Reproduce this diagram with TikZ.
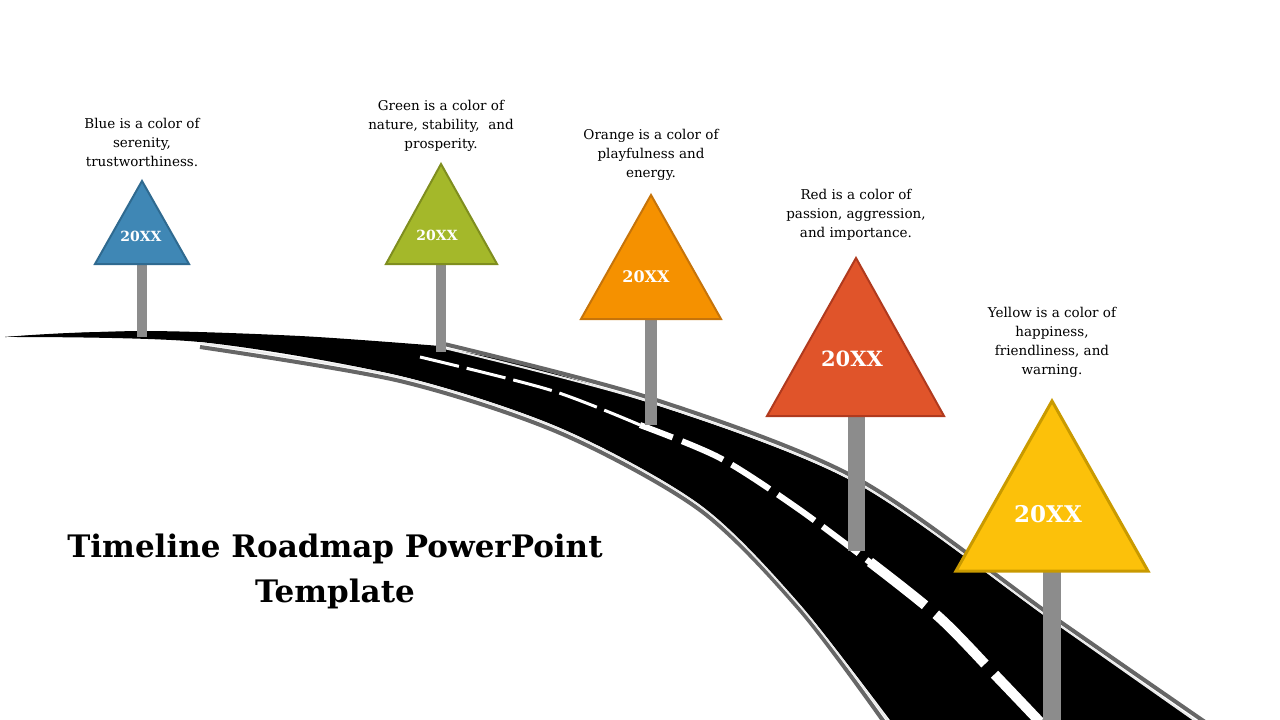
\documentclass[tikz,border=0pt]{standalone}
\usepackage{fontspec}
\setmainfont{DejaVu Serif}
\begin{document}
\begin{tikzpicture}[x=1pt,y=-1pt,
 post/.style={fill=gray!80!black!75,draw=none},
 desc/.style={align=center,font=\fontsize{13.5}{19}\selectfont},
 yr/.style={text=white,font=\bfseries},
 sign/.style={line width=2pt,line join=miter}]
\definecolor{cb}{HTML}{3F87B5}\definecolor{cbd}{HTML}{2F6A90}
\definecolor{cg}{HTML}{A4B82A}\definecolor{cgd}{HTML}{7F8E1F}
\definecolor{co}{HTML}{F59100}\definecolor{cod}{HTML}{C6740A}
\definecolor{cr}{HTML}{E0542A}\definecolor{crd}{HTML}{B03A1E}
\definecolor{cy}{HTML}{FCC10A}\definecolor{cyd}{HTML}{C99A00}
\definecolor{pg}{HTML}{666666}
\useasboundingbox (0,0) rectangle (1280,720);
% road
\fill[black] plot[smooth] coordinates {(5,337) (140,332) (440,348) (650,403) (856,483) (1052,621) (1195,720)}
 -- (890,720) -- plot[smooth] coordinates {(890,720) (800,605) (700,505) (560,428) (400,376) (200,342) (5,337)} -- cycle;
\draw[pg,line width=4pt] plot[smooth] coordinates {(440,343) (650,398) (856,478) (1052,616) (1205,722)};
\draw[white!85!gray,line width=2pt] plot[smooth] coordinates {(440,347) (650,402) (856,482) (1052,620) (1197,722)};
\draw[pg,line width=4pt] plot[smooth] coordinates {(200,347) (400,381) (560,433) (700,510) (800,610) (884,722)};
\draw[white!85!gray,line width=2pt] plot[smooth] coordinates {(200,343) (400,377) (560,429) (700,506) (800,606) (889,722)};
\fill[black] plot[smooth] coordinates {(5,337) (140,331) (300,336) (440,346)} -- plot[smooth] coordinates {(440,352) (300,344) (140,335) (5,337)} -- cycle;
% center dashes
\draw[white,line width=3pt,dash pattern=on 40pt off 8pt] plot[smooth] coordinates {(420,357) (550,390) (640,425)};
\draw[white,line width=6pt,dash pattern=on 45pt off 10pt,dash phase=10pt] plot[smooth] coordinates {(640,425) (720,458) (800,510) (880,570)};
\draw[white,line width=10pt,dash pattern=on 70pt off 14pt] plot[smooth] coordinates {(870,562) (940,618) (1000,680) (1040,722)};
% signs
\fill[post] (137,264) rectangle (147,337);
\fill[post] (436,264) rectangle (446,352);
\fill[post] (645,319) rectangle (657,425);
\fill[post] (848,416) rectangle (865,551);
\fill[post] (1043,571) rectangle (1061,720);
\draw[sign,fill=cb,draw=cbd] (142,181)--(189,264)--(95,264)--cycle;
\draw[sign,fill=cg,draw=cgd] (441,164)--(497,264)--(386,264)--cycle;
\draw[sign,fill=co,draw=cod] (651,195)--(721,319)--(581,319)--cycle;
\draw[sign,fill=cr,draw=crd] (856,258)--(944,416)--(767,416)--cycle;
\draw[sign,line width=3pt,fill=cy,draw=cyd] (1052,401)--(1148,571)--(956,571)--cycle;
\node[yr,font=\fontsize{14}{16}\selectfont\bfseries] (y1) at (141,236) {20XX};
\node[yr,font=\fontsize{14}{16}\selectfont\bfseries] (y2) at (437,235) {20XX};
\node[yr,font=\fontsize{16}{18}\selectfont\bfseries] (y3) at (646,277) {20XX};
\node[yr,font=\fontsize{21}{24}\selectfont\bfseries] (y4) at (852,359) {20XX};
\node[yr,font=\fontsize{23}{26}\selectfont\bfseries] (y5) at (1048,514) {20XX};
\node[desc] (d1) at (142,142) {Blue is a color of\\serenity,\\trustworthiness.};
\node[desc] (d2) at (441,126) {Green is a color of\\nature, stability,\ \ and\\prosperity.};
\node[desc] (d3) at (651,155) {Orange is a color of\\playfulness and\\energy.};
\node[desc] (d4) at (856,215) {Red is a color of\\passion, aggression,\\and importance.};
\node[desc] (d5) at (1052,342) {Yellow is a color of\\happiness,\\friendliness, and\\warning.};
\node[align=center,font=\fontsize{31}{45}\selectfont\bfseries] (t) at (335,571) {Timeline Roadmap PowerPoint\\Template};
\end{tikzpicture}
\end{document}
